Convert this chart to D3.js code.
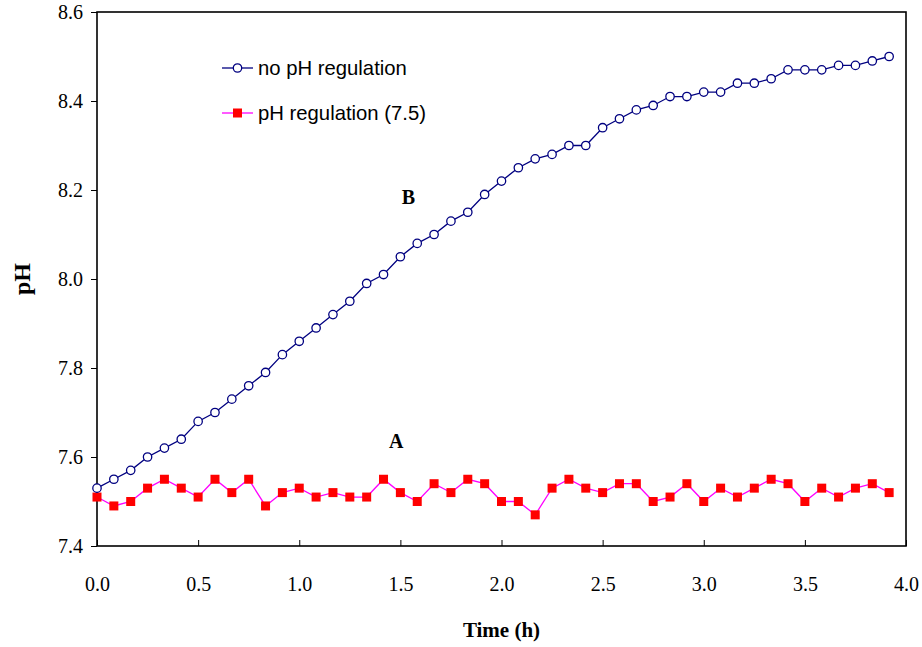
<!DOCTYPE html>
<html>
<head>
<meta charset="utf-8">
<script src="https://cdn.jsdelivr.net/npm/d3@7"></script>
<style>
  html, body { margin: 0; padding: 0; background: #fff; }
  svg { display: block; }
</style>
</head>
<body>
<svg id="chart" width="922" height="647"></svg>
<script>
// Sampling times (h), one reading every 5 minutes
const timeH = d3.range(48).map(i => i / 12);

// pH without regulation (curve B)
const noRegulation = [
  7.53, 7.55, 7.57, 7.60, 7.62, 7.64, 7.68, 7.70, 7.73, 7.76, 7.79, 7.83,
  7.86, 7.89, 7.92, 7.95, 7.99, 8.01, 8.05, 8.08, 8.10, 8.13, 8.15, 8.19,
  8.22, 8.25, 8.27, 8.28, 8.30, 8.30, 8.34, 8.36, 8.38, 8.39, 8.41, 8.41,
  8.42, 8.42, 8.44, 8.44, 8.45, 8.47, 8.47, 8.47, 8.48, 8.48, 8.49, 8.50
];

// pH with regulation at 7.5 (curve A)
const withRegulation = [
  7.51, 7.49, 7.50, 7.53, 7.55, 7.53, 7.51, 7.55, 7.52, 7.55, 7.49, 7.52,
  7.53, 7.51, 7.52, 7.51, 7.51, 7.55, 7.52, 7.50, 7.54, 7.52, 7.55, 7.54,
  7.50, 7.50, 7.47, 7.53, 7.55, 7.53, 7.52, 7.54, 7.54, 7.50, 7.51, 7.54,
  7.50, 7.53, 7.51, 7.53, 7.55, 7.54, 7.50, 7.53, 7.51, 7.53, 7.54, 7.52
];

const xTicks = [0, 0.5, 1.0, 1.5, 2.0, 2.5, 3.0, 3.5, 4.0];
const yTicks = [7.4, 7.6, 7.8, 8.0, 8.2, 8.4, 8.6];
const seriesNames = ["no pH regulation", "pH regulation (7.5)"];
const curveLabels = [{ text: "B", t: 1.54, v: 8.168 }, { text: "A", t: 1.48, v: 7.62 }];

const svg = d3.select("#chart");
const plot = { left: 97, top: 12, right: 906, bottom: 546 };

const x = d3.scaleLinear().domain([0, 4]).range([plot.left, plot.right]);
const y = d3.scaleLinear().domain([7.4, 8.6]).range([plot.bottom, plot.top]);

const serif = "'Liberation Serif', 'Times New Roman', serif";
const sans = "'Liberation Sans', Arial, sans-serif";

// X axis: ticks pointing into the plot
const gx = svg.append("g")
  .attr("transform", `translate(0,${plot.bottom})`)
  .call(d3.axisBottom(x).tickValues(xTicks).tickFormat(d3.format(".1f"))
    .tickSizeInner(-6).tickSizeOuter(0).tickPadding(31));
gx.select(".domain").remove();
gx.selectAll("line").attr("stroke", "#000").attr("stroke-width", 1);
gx.selectAll("text").attr("font-family", serif).attr("font-size", 20).attr("fill", "#000");

// Y axis: ticks pointing outward
const gy = svg.append("g")
  .attr("transform", `translate(${plot.left},0)`)
  .call(d3.axisLeft(y).tickValues(yTicks).tickFormat(d3.format(".1f"))
    .tickSizeInner(6).tickSizeOuter(0).tickPadding(8));
gy.select(".domain").remove();
gy.selectAll("line").attr("stroke", "#000").attr("stroke-width", 1);
gy.selectAll("text").attr("font-family", serif).attr("font-size", 20).attr("fill", "#000");

// Plot frame
svg.append("rect")
  .attr("x", plot.left).attr("y", plot.top)
  .attr("width", plot.right - plot.left).attr("height", plot.bottom - plot.top)
  .attr("fill", "none").attr("stroke", "#000").attr("stroke-width", 1.6);

// Axis titles
svg.append("text")
  .attr("x", (plot.left + plot.right) / 2).attr("y", 637)
  .attr("text-anchor", "middle")
  .attr("font-family", serif).attr("font-weight", "bold").attr("font-size", 21)
  .text("Time (h)");
svg.append("text")
  .attr("transform", `translate(30,${(plot.top + plot.bottom) / 2}) rotate(-90)`)
  .attr("text-anchor", "middle")
  .attr("font-family", serif).attr("font-weight", "bold").attr("font-size", 24)
  .text("pH");

const line = d3.line().x(d => x(d[0])).y(d => y(d[1]));
const blueData = timeH.map((t, i) => [t, noRegulation[i]]);
const redData = timeH.map((t, i) => [t, withRegulation[i]]);

const navy = "#000080";
const magenta = "#FF00FF";
const red = "#FF0000";
const sq = 9;

// Curve A: regulated
svg.append("path").datum(redData)
  .attr("d", line).attr("fill", "none").attr("stroke", magenta).attr("stroke-width", 1.3);
svg.append("g").selectAll("rect").data(redData).join("rect")
  .attr("x", d => x(d[0]) - sq / 2).attr("y", d => y(d[1]) - sq / 2)
  .attr("width", sq).attr("height", sq).attr("fill", red);

// Curve B: unregulated
svg.append("path").datum(blueData)
  .attr("d", line).attr("fill", "none").attr("stroke", navy).attr("stroke-width", 1.3);
svg.append("g").selectAll("circle").data(blueData).join("circle")
  .attr("cx", d => x(d[0])).attr("cy", d => y(d[1])).attr("r", 4.2)
  .attr("fill", "#fff").attr("stroke", navy).attr("stroke-width", 1.3);

// Curve letters
svg.append("g").selectAll("text").data(curveLabels).join("text")
  .attr("x", d => x(d.t)).attr("y", d => y(d.v))
  .attr("text-anchor", "middle")
  .attr("font-family", serif).attr("font-weight", "bold").attr("font-size", 20)
  .text(d => d.text);

// Legend
const legend = svg.append("g");
const legendRows = [
  { name: seriesNames[0], y: 68, stroke: navy, marker: "circle" },
  { name: seriesNames[1], y: 113, stroke: magenta, marker: "square" }
];
legendRows.forEach(r => {
  legend.append("line").attr("x1", 222).attr("x2", 253).attr("y1", r.y).attr("y2", r.y)
    .attr("stroke", r.stroke).attr("stroke-width", 1.3);
  if (r.marker === "circle") {
    legend.append("circle").attr("cx", 237.5).attr("cy", r.y).attr("r", 4.2)
      .attr("fill", "#fff").attr("stroke", navy).attr("stroke-width", 1.3);
  } else {
    legend.append("rect").attr("x", 237.5 - sq / 2).attr("y", r.y - sq / 2)
      .attr("width", sq).attr("height", sq).attr("fill", red);
  }
  legend.append("text").attr("x", 258).attr("y", r.y).attr("dy", "0.36em")
    .attr("font-family", sans).attr("font-size", 20.3).attr("fill", "#000")
    .text(r.name);
});
</script>
</body>
</html>
